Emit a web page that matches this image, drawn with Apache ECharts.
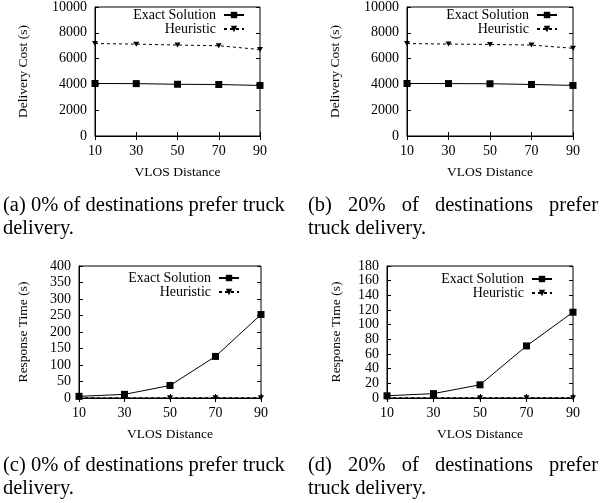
<!DOCTYPE html>
<html><head><meta charset="utf-8">
<script src="https://cdn.jsdelivr.net/npm/echarts@6/dist/echarts.min.js"></script>
<style>html,body{margin:0;padding:0;background:#fff}#c{width:611px;height:503px}</style>
</head><body><div id="c"></div>
<script>
// ---- data ----
var vlosDistance = ['10', '30', '50', '70', '90'];
var costExact0 = [4070, 4060, 4010, 3990, 3920];
var costHeur0 = [7170, 7120, 7050, 7000, 6700];
var costExact20 = [4070, 4065, 4050, 3995, 3920];
var costHeur20 = [7170, 7125, 7100, 7050, 6800];
var timeExact0 = [5, 11, 38, 126, 253];
var timeHeur0 = [0.5, 0.5, 0.6, 0.7, 0.8];
var timeExact20 = [3, 6, 18, 71, 117];
var timeHeur20 = [0.3, 0.3, 0.4, 0.4, 0.5];
var seriesNames = ['Exact Solution', 'Heuristic'];
var captionA = ['(a) 0% of destinations prefer truck', 'delivery.'];
var captionB = ['(b) 20% of destinations prefer', 'truck delivery.'];
var captionC = ['(c) 0% of destinations prefer truck', 'delivery.'];
var captionD = ['(d) 20% of destinations prefer', 'truck delivery.'];

var FONT = 'Liberation Serif';
var chart = echarts.init(document.getElementById('c'), null, {renderer: 'canvas'});

var panels = [
  {grid: {left: 95, top: 5, width: 165, height: 131}, y: {min: 0, max: 10000, interval: 2000, name: 'Delivery Cost (s)'},
   ex: costExact0, he: costHeur0, legend: {right: 366, top: 8}, nameGapY: 65},
  {grid: {left: 407, top: 5, width: 166, height: 131}, y: {min: 0, max: 10000, interval: 2000, name: 'Delivery Cost (s)'},
   ex: costExact20, he: costHeur20, legend: {right: 53, top: 8}, nameGapY: 65},
  {grid: {left: 79, top: 266, width: 182, height: 132}, y: {min: 0, max: 400, interval: 50, name: 'Response Time (s)'},
   ex: timeExact0, he: timeHeur0, legend: {right: 371, top: 271}, nameGapY: 49},
  {grid: {left: 387, top: 266, width: 186, height: 132}, y: {min: 0, max: 180, interval: 20, name: 'Response Time (s)'},
   ex: timeExact20, he: timeHeur20, legend: {right: 58, top: 272}, nameGapY: 44}
];

var grids = [], xAxes = [], yAxes = [], series = [], legends = [];
var tickStyle = {show: true, inside: true, length: 4, lineStyle: {color: '#000', width: 1}};
panels.forEach(function (p, i) {
  grids.push(Object.assign({show: true, borderColor: '#000', borderWidth: 1, backgroundColor: 'transparent'}, p.grid));
  xAxes.push({type: 'category', gridIndex: i, data: vlosDistance, boundaryGap: false, position: 'bottom',
    name: 'VLOS Distance', nameLocation: 'middle', nameGap: 29,
    nameTextStyle: {fontFamily: FONT, fontSize: 13.5, color: '#000'},
    axisLine: {show: true, lineStyle: {color: '#000', width: 1}}, axisTick: tickStyle,
    axisLabel: {fontFamily: FONT, fontSize: 14, color: '#000', margin: 8}, splitLine: {show: false}});
  xAxes.push({type: 'category', gridIndex: i, data: vlosDistance, boundaryGap: false, position: 'top',
    axisLine: {show: false}, axisTick: tickStyle, axisLabel: {show: false}, splitLine: {show: false}});
  yAxes.push({type: 'value', gridIndex: i, min: p.y.min, max: p.y.max, interval: p.y.interval, position: 'left',
    name: p.y.name, nameLocation: 'middle', nameGap: p.nameGapY,
    nameTextStyle: {fontFamily: FONT, fontSize: 13.5, color: '#000'},
    axisLine: {show: true, lineStyle: {color: '#000', width: 1}}, axisTick: tickStyle,
    axisLabel: {fontFamily: FONT, fontSize: 14, color: '#000', margin: 8, formatter: function (v) { return String(v); }},
    splitLine: {show: false}});
  yAxes.push({type: 'value', gridIndex: i, min: p.y.min, max: p.y.max, interval: p.y.interval, position: 'right',
    axisLine: {show: false}, axisTick: tickStyle, axisLabel: {show: false}, splitLine: {show: false}});
  var exName = seriesNames[0] + (i ? '\u200b'.repeat(i) : '');
  var heName = seriesNames[1] + (i ? '\u200b'.repeat(i) : '');
  series.push({type: 'line', name: exName, xAxisIndex: 2 * i, yAxisIndex: 2 * i, data: p.ex,
    symbol: 'rect', symbolSize: 7, showAllSymbol: true, animation: false,
    lineStyle: {color: '#000', width: 1}, itemStyle: {color: '#000'}});
  series.push({type: 'line', name: heName, xAxisIndex: 2 * i, yAxisIndex: 2 * i, data: p.he,
    symbol: 'path://M0,0L10,0L5,8Z', symbolSize: [6, 5], showAllSymbol: true, animation: false,
    lineStyle: {color: '#000', width: 1, type: [3, 3]}, itemStyle: {color: '#000'}});
  legends.push({data: [exName, heName], orient: 'vertical', align: 'right', right: p.legend.right, top: p.legend.top,
    itemWidth: 20, itemHeight: 8, itemGap: 0, padding: 0, selectedMode: false,
    formatter: function (n) { return n.replace(/\u200b/g, ''); },
    textStyle: {fontFamily: FONT, fontSize: 14, color: '#000', lineHeight: 13, padding: [0, 3, 0, 0]}});
});

var CAP_SIZE = 20.5;
var capFont = CAP_SIZE + 'px "' + FONT + '"';
var measureCtx = document.createElement('canvas').getContext('2d');
measureCtx.font = capFont;
function txt(x, y, s) {
  return {type: 'text', left: x, top: y, style: {text: s, font: capFont, fill: '#000', textVerticalAlign: 'middle'}};
}
// justified line: spread words between x0 and x1
function justified(x0, x1, y, line) {
  var words = line.split(' ');
  var widths = words.map(function (w) { return measureCtx.measureText(w).width; });
  var total = widths.reduce(function (a, b) { return a + b; }, 0);
  var gap = (x1 - x0 - total) / (words.length - 1);
  var out = [], x = x0;
  words.forEach(function (w, k) { out.push(txt(x, y, w)); x += widths[k] + gap; });
  return out;
}
var graphics = [].concat(
  [txt(3, 195, captionA[0]), txt(3, 218, captionA[1])],
  justified(308, 598, 195, captionB[0]), [txt(308, 218, captionB[1])],
  [txt(3, 455, captionC[0]), txt(3, 478, captionC[1])],
  justified(308, 598, 455, captionD[0]), [txt(308, 478, captionD[1])]
);

chart.setOption({
  animation: false,
  grid: grids, xAxis: xAxes, yAxis: yAxes, series: series, legend: legends,
  graphic: graphics
});
</script></body></html>
